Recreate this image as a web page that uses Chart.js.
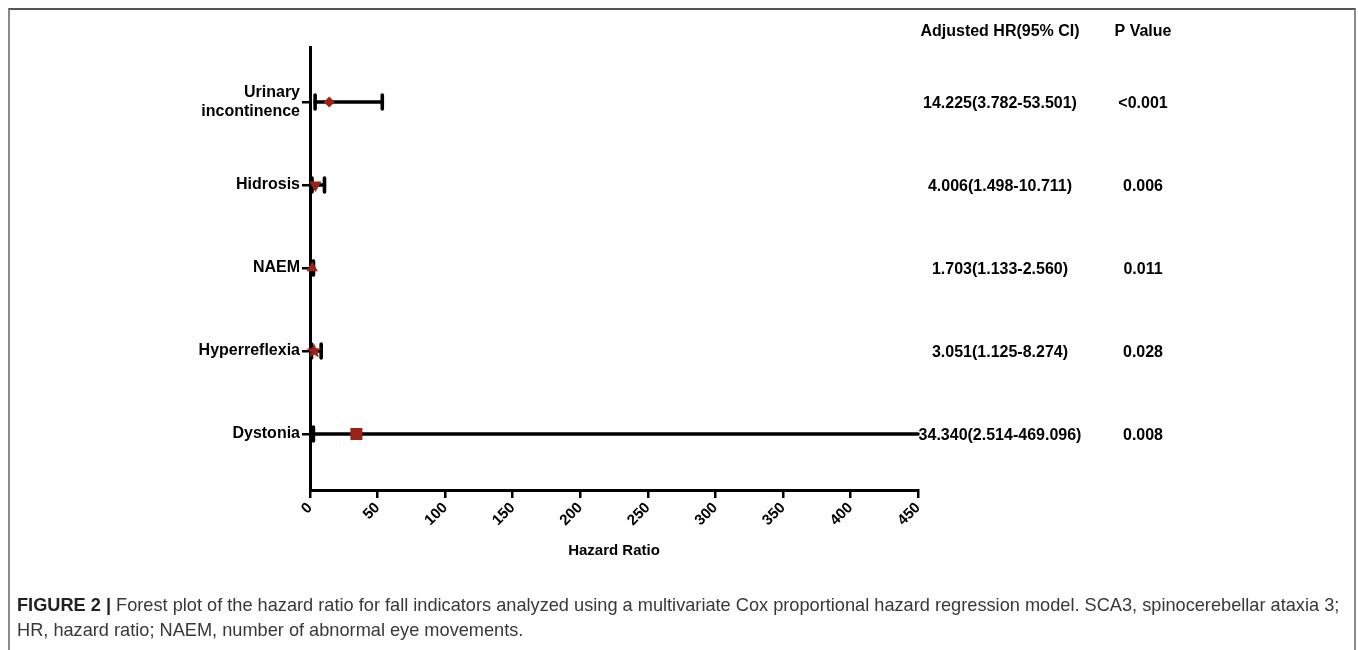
<!DOCTYPE html>
<html>
<head>
<meta charset="utf-8">
<script src="https://cdn.jsdelivr.net/npm/chart.js@4/dist/chart.umd.min.js"></script>
<style>
  html, body { margin: 0; padding: 0; background: #fff; }
  body { width: 1358px; height: 650px; position: relative; overflow: hidden; }
  #frame {
    position: absolute; left: 8px; top: 8px; width: 1348px; height: 700px;
    border-top: 2px solid #555; border-left: 2px solid #8a8a8a; border-right: 2px solid #8a8a8a;
    box-sizing: border-box;
  }
  #plot { position: absolute; left: 0; top: 0; }
  #caption {
    position: absolute; left: 17px; top: 593px; width: 1334px; white-space: nowrap;
    font-family: "Liberation Sans", Arial, sans-serif; font-size: 18.2px; line-height: 25px;
    color: #383838;
  }
  #caption b { color: #222; }
</style>
</head>
<body>
<div id="frame"></div>
<canvas id="plot" width="1358" height="650"></canvas>
<div id="caption"><b>FIGURE 2 |</b> Forest plot of the hazard ratio for fall indicators analyzed using a multivariate Cox proportional hazard regression model. SCA3, spinocerebellar ataxia 3;<br>HR, hazard ratio; NAEM, number of abnormal eye movements.</div>
<script>
// Fall indicators and their adjusted hazard ratios with 95% confidence limits
const categories = ['Urinary incontinence', 'Hidrosis', 'NAEM', 'Hyperreflexia', 'Dystonia'];
const hazardRatio = [14.225, 4.006, 1.703, 3.051, 34.340];
const ciLower = [3.782, 1.498, 1.133, 1.125, 2.514];
const ciUpper = [53.501, 10.711, 2.560, 8.274, 469.096];
const pValues = ['<0.001', '0.006', '0.011', '0.028', '0.008'];
const xTickValues = [0, 50, 100, 150, 200, 250, 300, 350, 400, 450];

const markColor = '#9b2416';
const boldFont = '"Liberation Sans", Arial, sans-serif';

// filled five-point star used for one of the markers
function makeStar(size, outer, inner) {
  const c = document.createElement('canvas');
  c.width = size; c.height = size;
  const g = c.getContext('2d');
  g.fillStyle = markColor;
  g.beginPath();
  for (let k = 0; k < 10; k++) {
    const r = k % 2 === 0 ? outer : inner;
    const a = -Math.PI / 2 + k * Math.PI / 5;
    const px = size / 2 + r * Math.cos(a), py = size / 2 + r * Math.sin(a);
    if (k === 0) g.moveTo(px, py); else g.lineTo(px, py);
  }
  g.closePath();
  g.fill();
  return c;
}
const starImg = makeStar(18, 8, 3.4);

const pointStyles = ['rectRot', 'triangle', 'triangle', starImg, 'rect'];
const pointRotations = [0, 180, 0, 0, 0];
const pointRadii = [5.5, 7, 6.5, 7, 8.5];

// confidence interval whiskers drawn beneath the point markers
const ciPlugin = {
  id: 'ciWhiskers',
  beforeDatasetsDraw(chart) {
    const { ctx, scales: { x, y } } = chart;
    ctx.save();
    ctx.strokeStyle = '#000';
    ctx.lineWidth = 3.6;
    ctx.lineCap = 'round';
    categories.forEach((c, i) => {
      const py = y.getPixelForValue(i + 1);
      const lo = Math.max(ciLower[i], x.min);
      const hi = Math.min(ciUpper[i], x.max);
      const x0 = x.getPixelForValue(lo), x1 = x.getPixelForValue(hi);
      ctx.beginPath();
      ctx.moveTo(x0, py); ctx.lineTo(x1, py);
      ctx.stroke();
      ctx.beginPath();
      if (ciLower[i] >= x.min) { ctx.moveTo(x0, py - 7); ctx.lineTo(x0, py + 7); }
      if (ciUpper[i] <= x.max) { ctx.moveTo(x1, py - 7); ctx.lineTo(x1, py + 7); }
      ctx.stroke();
    });
    ctx.restore();
  },
  afterDraw(chart) {
    const { ctx, scales: { y } } = chart;
    ctx.save();
    ctx.fillStyle = '#000';
    ctx.font = 'bold 16px ' + boldFont;
    ctx.textAlign = 'center';
    ctx.textBaseline = 'middle';
    ctx.fillText('Adjusted HR(95% CI)', 1000, 32);
    ctx.fillText('P Value', 1143, 32);
    categories.forEach((c, i) => {
      const py = y.getPixelForValue(i + 1) + 1.5;
      const txt = hazardRatio[i].toFixed(3) + '(' + ciLower[i].toFixed(3) + '-' + ciUpper[i].toFixed(3) + ')';
      ctx.fillText(txt, 1000, py);
      ctx.fillText(pValues[i], 1143, py);
    });
    ctx.restore();
  }
};

new Chart(document.getElementById('plot'), {
  type: 'scatter',
  data: {
    datasets: [{
      data: hazardRatio.map((v, i) => ({ x: v, y: i + 1 })),
      backgroundColor: markColor,
      borderColor: markColor,
      borderWidth: 0,
      pointStyle: pointStyles,
      rotation: pointRotations,
      pointRadius: pointRadii,
      clip: false
    }]
  },
  options: {
    responsive: false,
    devicePixelRatio: 1,
    animation: false,
    events: [],
    layout: { padding: { left: 0, top: 47, right: 440, bottom: 90 } },
    plugins: { legend: { display: false }, tooltip: { enabled: false } },
    scales: {
      x: {
        type: 'linear',
        min: 0, max: 450,
        afterBuildTicks(scale) { scale.ticks = xTickValues.map(v => ({ value: v })); },
        afterFit(scale) { scale.height = 70; },
        ticks: {
          color: '#000',
          font: { family: boldFont, size: 15, weight: 'bold' },
          minRotation: 45, maxRotation: 45,
          padding: 1
        },
        grid: { drawOnChartArea: false, drawTicks: true, tickLength: 8, color: '#000', lineWidth: 2.5 },
        border: { display: true, color: '#000', width: 3 },
        title: {
          display: true, text: 'Hazard Ratio', color: '#000',
          font: { family: boldFont, size: 15, weight: 'bold' },
          padding: { top: 0, bottom: 0 }
        }
      },
      y: {
        type: 'linear',
        reverse: true,
        min: 0.337, max: 5.675,
        afterBuildTicks(scale) { scale.ticks = categories.map((c, i) => ({ value: i + 1 })); },
        afterFit(scale) { scale.width = 310; },
        ticks: {
          color: '#000',
          font: { family: boldFont, size: 16, weight: 'bold' },
          padding: 2,
          callback(v) {
            const name = categories[Math.round(v) - 1] || '';
            return name.includes(' ') ? name.split(' ') : name;
          }
        },
        grid: { drawOnChartArea: false, drawTicks: true, tickLength: 8, color: '#000', lineWidth: 2.5 },
        border: { display: true, color: '#000', width: 3 }
      }
    }
  },
  plugins: [ciPlugin]
});
</script>
</body>
</html>
